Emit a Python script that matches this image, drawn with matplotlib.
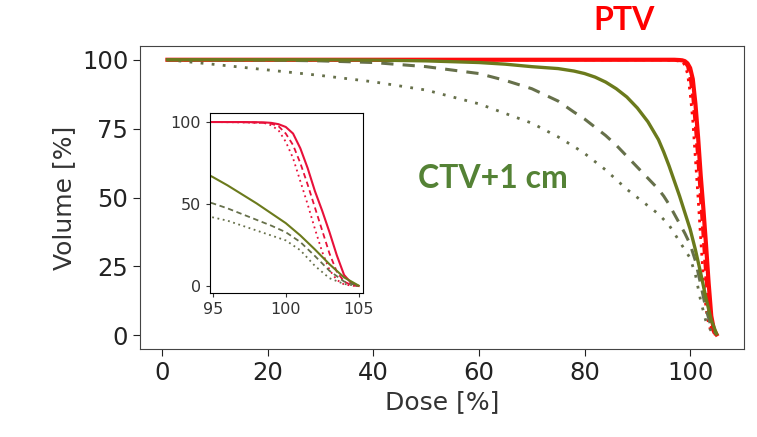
import matplotlib
matplotlib.use("Agg")
import matplotlib.pyplot as plt

plt.rcParams['font.family'] = ['DejaVu Sans']

# Dose grids [%]
dose_ctv = [1, 10, 20, 30, 40, 50, 60, 65, 70, 75, 78, 80, 82, 84, 86, 88, 90, 92, 94,
            95, 96, 97, 98, 99, 100, 101, 102, 103, 104, 105]
ctv_solid = [100, 100, 100, 100, 99.9, 99.6, 99, 98.4, 97.5, 96.8, 95.9, 95, 93.7, 91.9,
             89.5, 86.5, 82.5, 77.5, 71, 66.5, 61.5, 56, 50.5, 44.5, 38.5, 31, 22.5, 13.5,
             5.5, 0.5]
ctv_dashed = [100, 100, 99.9, 99.6, 99, 97.5, 95, 92.5, 89.5, 85, 81, 78.5, 75.5, 72.5,
              69, 65, 61, 57, 53, 50.5, 47.5, 44, 40.5, 37, 33, 27, 18.5, 9.5, 3, 0.3]
ctv_dotted = [100, 98.3, 96.3, 94.3, 92, 89, 84, 80.5, 77, 72, 68.5, 66, 63, 60, 56.5,
              53, 50, 47, 44, 42, 40, 37, 34, 31, 28, 22, 12.5, 5, 1.5, 0.2]

dose_ptv = [1, 20, 40, 60, 80, 90, 95, 97, 98, 98.5, 99, 99.5, 100, 100.5, 101,
            101.5, 102, 102.5, 103, 103.5, 104, 104.5, 105]
ptv_solid = [100, 100, 100, 100, 100, 100, 100, 100, 99.9, 99.8, 99.5, 98.7, 97, 93, 84,
             72, 58, 46, 33, 19, 7, 2, 0.3]
ptv_dashed = [100, 100, 100, 100, 100, 100, 100, 99.9, 99.7, 99.5, 99, 97.5, 93, 86, 75,
              62, 48, 34, 20, 9, 3, 0.8, 0.2]
ptv_dotted = [100, 100, 100, 100, 100, 100, 100, 99.8, 99.5, 99.5, 98, 95, 88, 78, 64,
              50, 35, 21, 10, 4, 1.2, 0.5, 0.2]

main_xticks = [0, 20, 40, 60, 80, 100]
main_yticks = [0, 25, 50, 75, 100]
inset_xticks = [95, 100, 105]
inset_yticks = [0, 50, 100]

RED = "#ff0a0a"
RED_IN = "#e8103a"
OLIVE = "#6b7a1c"
OLIVE_D = "#66704a"

W, H = 757, 437
fig = plt.figure(figsize=(W / 100, H / 100), dpi=100)
ax = fig.add_axes([140 / W, 1 - 349 / H, 604 / W, 303 / H])

ax.plot(dose_ptv, ptv_dotted, color=RED, lw=2.0, ls=(0, (1, 2)))
ax.plot(dose_ptv, ptv_dashed, color=RED, lw=2.0, ls=(0, (4, 2)))
ax.plot(dose_ptv, ptv_solid, color=RED, lw=3.0)
ax.plot(dose_ctv, ctv_dotted, color=OLIVE_D, lw=2.0, ls=(0, (1, 3)))
ax.plot(dose_ctv, ctv_dashed, color=OLIVE_D, lw=2.2, ls=(0, (4, 3)))
ax.plot(dose_ctv, ctv_solid, color=OLIVE, lw=2.4)

ax.set_xlim(-4.2, 110.2)
ax.set_ylim(-5, 105)
ax.set_xticks(main_xticks)
ax.set_yticks(main_yticks)
ax.tick_params(labelsize=17.5, colors="#222222", length=5)
ax.set_xlabel("Dose [%]", fontsize=18, color="#333333")
ax.set_ylabel("Volume [%]", fontsize=18, color="#333333")
for s in ax.spines.values():
    s.set_color("#444444")

ins = fig.add_axes([210 / W, 1 - 293 / H, 153 / W, 180 / H])
ins.plot(dose_ptv, ptv_dotted, color=RED_IN, lw=1.3, ls=(0, (1, 2)))
ins.plot(dose_ptv, ptv_dashed, color=RED_IN, lw=1.3, ls=(0, (3, 2)))
ins.plot(dose_ptv, ptv_solid, color=RED_IN, lw=1.5)
ins.plot(dose_ctv, ctv_dotted, color=OLIVE_D, lw=1.3, ls=(0, (1, 2)))
ins.plot(dose_ctv, ctv_dashed, color=OLIVE_D, lw=1.3, ls=(0, (3, 2)))
ins.plot(dose_ctv, ctv_solid, color=OLIVE, lw=1.5)
ins.set_xlim(94.8, 105.3)
ins.set_ylim(-4, 105.5)
ins.set_xticks(inset_xticks)
ins.set_yticks(inset_yticks)
ins.tick_params(labelsize=11.5, colors="#333333", length=3)

fig.text(624 / W, 1 - 20 / H, "PTV", color="#ff0000", fontsize=23,
         fontweight="bold", family="Lato", ha="center", va="center")
fig.text(493 / W, 1 - 178 / H, "CTV+1 cm", color="#548235", fontsize=23,
         fontweight="bold", family="Lato", ha="center", va="center")

fig.savefig("out.png", dpi=100)
